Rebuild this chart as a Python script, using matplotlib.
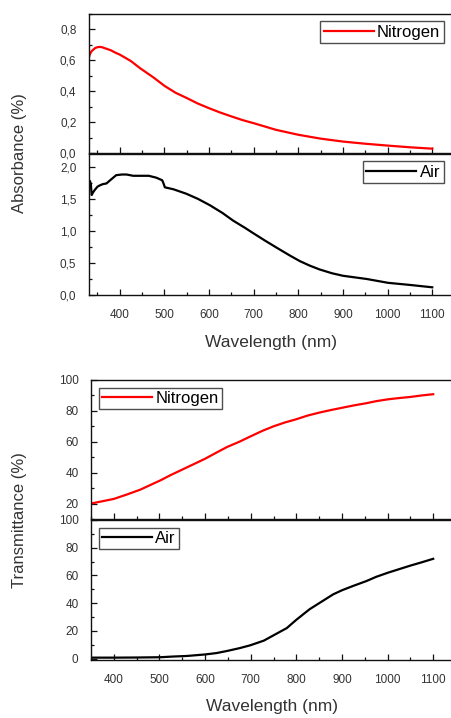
import matplotlib
matplotlib.use("Agg")
import matplotlib.pyplot as plt
from matplotlib.ticker import MultipleLocator, FuncFormatter

plt.rcParams['font.family'] = ['Liberation Sans', 'DejaVu Sans']

# ---- data ----
abs_n2_wl = [330, 333, 337, 341, 345, 350, 355, 360, 365, 370, 380, 390, 400, 425, 445, 475, 500, 525,
             550, 575, 600, 625, 650, 675, 700, 750, 800, 850, 900, 950, 1000, 1050, 1100]
abs_n2 = [0.61, 0.64, 0.66, 0.67, 0.68, 0.685, 0.687, 0.685, 0.68, 0.675, 0.665, 0.65, 0.637, 0.595, 0.55,
          0.49, 0.435, 0.39, 0.356, 0.32, 0.29, 0.262, 0.237, 0.213, 0.193, 0.15, 0.118, 0.093, 0.074,
          0.06, 0.048, 0.037, 0.028]

abs_air_wl = [331, 333, 335, 337, 340, 344, 350, 355, 362, 370, 380, 392, 405, 415, 430, 445, 465, 482,
              495, 498, 501, 520, 549, 575, 602, 630, 654, 680, 700, 725, 751, 780, 803, 825, 847, 875,
              900, 953, 1001, 1050, 1100]
abs_air = [1.70, 1.78, 1.74, 1.56, 1.60, 1.64, 1.69, 1.71, 1.73, 1.74, 1.80, 1.87, 1.88, 1.88, 1.86, 1.86,
           1.86, 1.83, 1.79, 1.74, 1.68, 1.65, 1.58, 1.50, 1.40, 1.28, 1.16, 1.05, 0.96, 0.85, 0.74, 0.62,
           0.53, 0.46, 0.40, 0.34, 0.30, 0.25, 0.19, 0.157, 0.12]

tr_n2_wl = [350, 375, 400, 430, 458, 480, 502, 525, 550, 575, 600, 625, 648, 675, 699, 725, 750, 775,
            800, 825, 852, 875, 900, 925, 954, 975, 1001, 1025, 1049, 1075, 1100]
tr_n2 = [20, 21.5, 23, 26, 29, 32, 35, 38.5, 42, 45.5, 49, 53, 56.6, 60, 63.4, 67, 70, 72.5,
         74.6, 77, 79, 80.5, 82, 83.5, 85, 86.3, 87.5, 88.3, 89, 90, 90.8]

tr_air_wl = [350, 400, 450, 502, 530, 560, 600, 625, 648, 675, 699, 729, 750, 779, 800, 829, 852, 881,
             900, 925, 954, 975, 1001, 1025, 1049, 1075, 1100]
tr_air = [0.7, 0.7, 0.8, 1.0, 1.5, 1.9, 3.0, 4.0, 5.5, 7.5, 9.6, 13, 16.8, 22, 28, 35.6, 40.4, 46.4,
          49.3, 52.5, 56, 59, 62, 64.5, 67, 69.5, 72]

x_ticks = [400, 500, 600, 700, 800, 900, 1000, 1100]

W, H = 451, 718
fig = plt.figure(figsize=(W / 100, H / 100), dpi=100)


def ax_at(x0, x1, ytop, ybot):
    return fig.add_axes([x0 / W, 1 - ybot / H, (x1 - x0) / W, (ybot - ytop) / H])


tick_color = '#333333'


def style(ax, xlim, ylim, ymaj, ymin, fmt, showx):
    ax.set_xlim(*xlim)
    ax.set_ylim(*ylim)
    ax.xaxis.set_major_locator(MultipleLocator(100))
    ax.xaxis.set_minor_locator(MultipleLocator(50))
    ax.yaxis.set_major_locator(MultipleLocator(ymaj))
    ax.yaxis.set_minor_locator(MultipleLocator(ymin))
    ax.yaxis.set_major_formatter(FuncFormatter(fmt))
    ax.tick_params(which='both', direction='in', top=False, right=False,
                   labelsize=8.5, labelcolor=tick_color, color='#111111', width=0.9)
    ax.tick_params(which='major', length=4.5)
    ax.tick_params(axis='y', which='major', pad=9)
    ax.tick_params(which='minor', length=2.5)
    ax.spines['right'].set_visible(False)
    for s in ('left', 'top', 'bottom'):
        ax.spines[s].set_linewidth(1.0)
        ax.spines[s].set_color('#111111')
    if not showx:
        ax.tick_params(axis='x', labelbottom=False)
    else:
        ax.set_xticks(x_ticks)
        ax.tick_params(axis='x', which='major', pad=10)


fmt1 = lambda v, p: f"{v:.1f}".replace('.', ',')
fmt0 = lambda v, p: f"{v:.0f}"

leg_kw = dict(frameon=True, fancybox=False, edgecolor='#222222', fontsize=12,
              handlelength=3.0, handletextpad=0.2, borderpad=0.2, borderaxespad=0.45)

ax1 = ax_at(89, 451, 14, 153)
ax1.plot(abs_n2_wl, abs_n2, color='#ff0000', lw=1.6, label='Nitrogen')
style(ax1, (331, 1142), (0, 0.9), 0.2, 0.1, fmt1, False)
lg = ax1.legend(loc='upper right', **leg_kw)
lg.get_frame().set_linewidth(1.0)

ax2 = ax_at(89, 451, 154, 295)
ax2.plot(abs_air_wl, abs_air, color='#000000', lw=1.6, label='Air')
style(ax2, (331, 1142), (0, 2.2), 0.5, 0.25, fmt1, True)
lg = ax2.legend(loc='upper right', **leg_kw)
lg.get_frame().set_linewidth(1.0)

ax3 = ax_at(91, 451, 380, 519)
ax3.plot(tr_n2_wl, tr_n2, color='#ff0000', lw=1.6, label='Nitrogen')
style(ax3, (350, 1139), (10, 100), 20, 10, fmt0, False)
ax3.set_yticks([20, 40, 60, 80, 100])
lg = ax3.legend(loc='upper left', **leg_kw)
lg.get_frame().set_linewidth(1.0)

ax4 = ax_at(91, 451, 520, 660)
ax4.plot(tr_air_wl, tr_air, color='#000000', lw=1.6, label='Air')
style(ax4, (350, 1139), (-1, 100), 20, 10, fmt0, True)
ax4.set_yticks([0, 20, 40, 60, 80, 100])
lg = ax4.legend(loc='upper left', **leg_kw)
lg.get_frame().set_linewidth(1.0)

fig.text(271 / W, 1 - 343 / H, 'Wavelength (nm)', ha='center', va='center', fontsize=12.5, color='#333333')
fig.text(272 / W, 1 - 706 / H, 'Wavelength (nm)', ha='center', va='center', fontsize=12.5, color='#333333')
fig.text(20 / W, 1 - 153 / H, 'Absorbance (%)', ha='center', va='center', rotation=90, fontsize=12, color='#333333')
fig.text(20 / W, 1 - 520 / H, 'Transmittance (%)', ha='center', va='center', rotation=90, fontsize=12, color='#333333')

fig.savefig('out.png', dpi=100)
